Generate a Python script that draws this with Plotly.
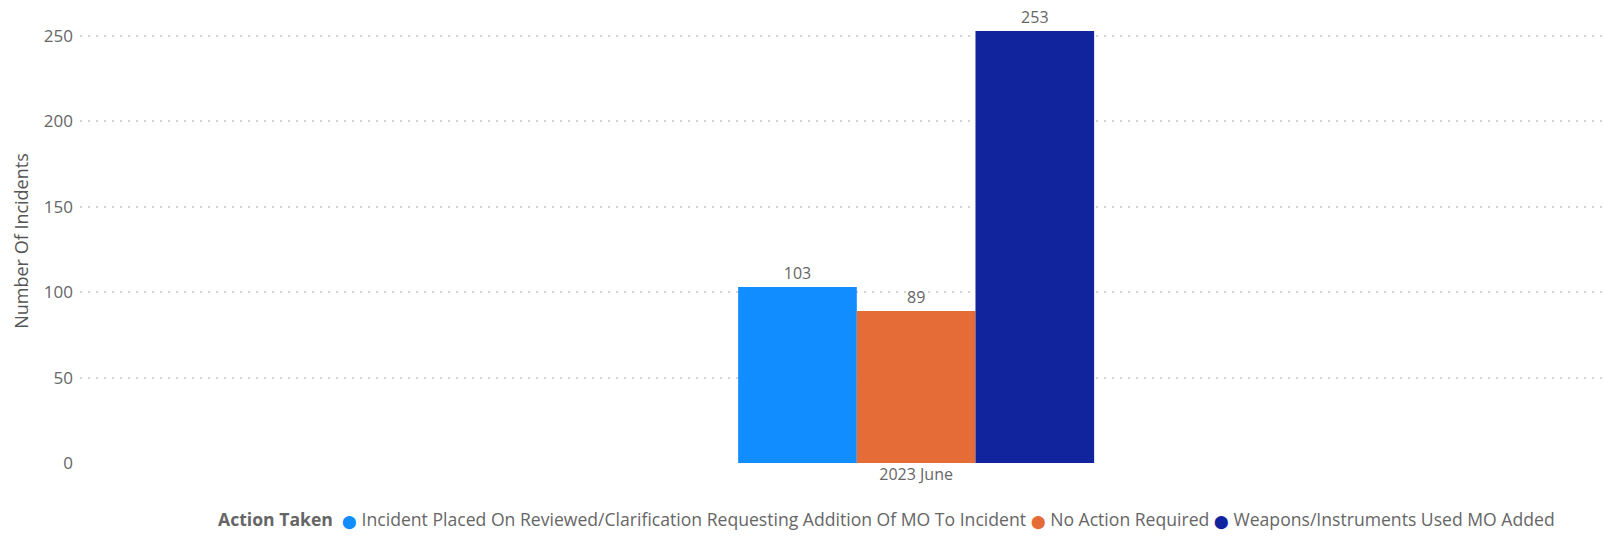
import plotly.graph_objects as go

categories = ["2023 June"]
series_names = [
    "Incident Placed On Reviewed/Clarification Requesting Addition Of MO To Incident",
    "No Action Required",
    "Weapons/Instruments Used MO Added",
]
series_values = [[103], [89], [253]]
series_colors = ["#118DFF", "#E66C37", "#12239E"]
y_ticks = [0, 50, 100, 150, 200, 250]
legend_title = "Action Taken"

FONT = "Open Sans"
fig = go.Figure()
for name, vals, col in zip(series_names, series_values, series_colors):
    fig.add_trace(go.Bar(
        x=categories, y=vals, name=name, marker_color=col, marker_line_width=0,
        text=vals, textposition="outside", cliponaxis=False,
        textfont=dict(size=16, color="#666666", family=FONT),
        showlegend=False,
    ))

# legend drawn as a single text line with coloured dots
parts = [f"<b>{legend_title}</b>\u00a0\u00a0"]
for name, col in zip(series_names, series_colors):
    parts.append(f"<span style='color:{col};font-size:13px'>\u2B24</span>\u00a0{name}\u00a0")
fig.add_annotation(
    text="".join(parts), xref="paper", yref="paper", x=0.0893, y=-0.126,
    xanchor="left", yanchor="middle", showarrow=False,
    font=dict(size=17.6, color="#666666", family=FONT),
)

fig.update_layout(
    width=1605, height=542,
    margin=dict(l=80, r=0, t=19, b=79, autoexpand=False),
    paper_bgcolor="white", plot_bgcolor="white",
    bargap=0.2, bargroupgap=0, showlegend=False,
    font=dict(family=FONT, color="#666666", size=16),
    xaxis=dict(range=[-1.879, 1.548], showgrid=False, zeroline=False, automargin=False,
               showline=False, ticks="", tickfont=dict(size=16, color="#666666")),
    yaxis=dict(range=[0, 260], tickvals=y_ticks, showgrid=True, gridcolor="#D4D4D4",
               griddash="2px,6px", gridwidth=1.5, zeroline=False, showline=False,
               ticks="", ticklabelstandoff=6, automargin=False,
               title=dict(text="Number Of Incidents", font=dict(size=18, color="#555555"), standoff=10),
               tickfont=dict(size=17, color="#666666")),
)
fig.write_html("out.html", config={"displayModeBar": False},
               post_script="document.body.style.margin='0';document.body.style.overflow='hidden';")
